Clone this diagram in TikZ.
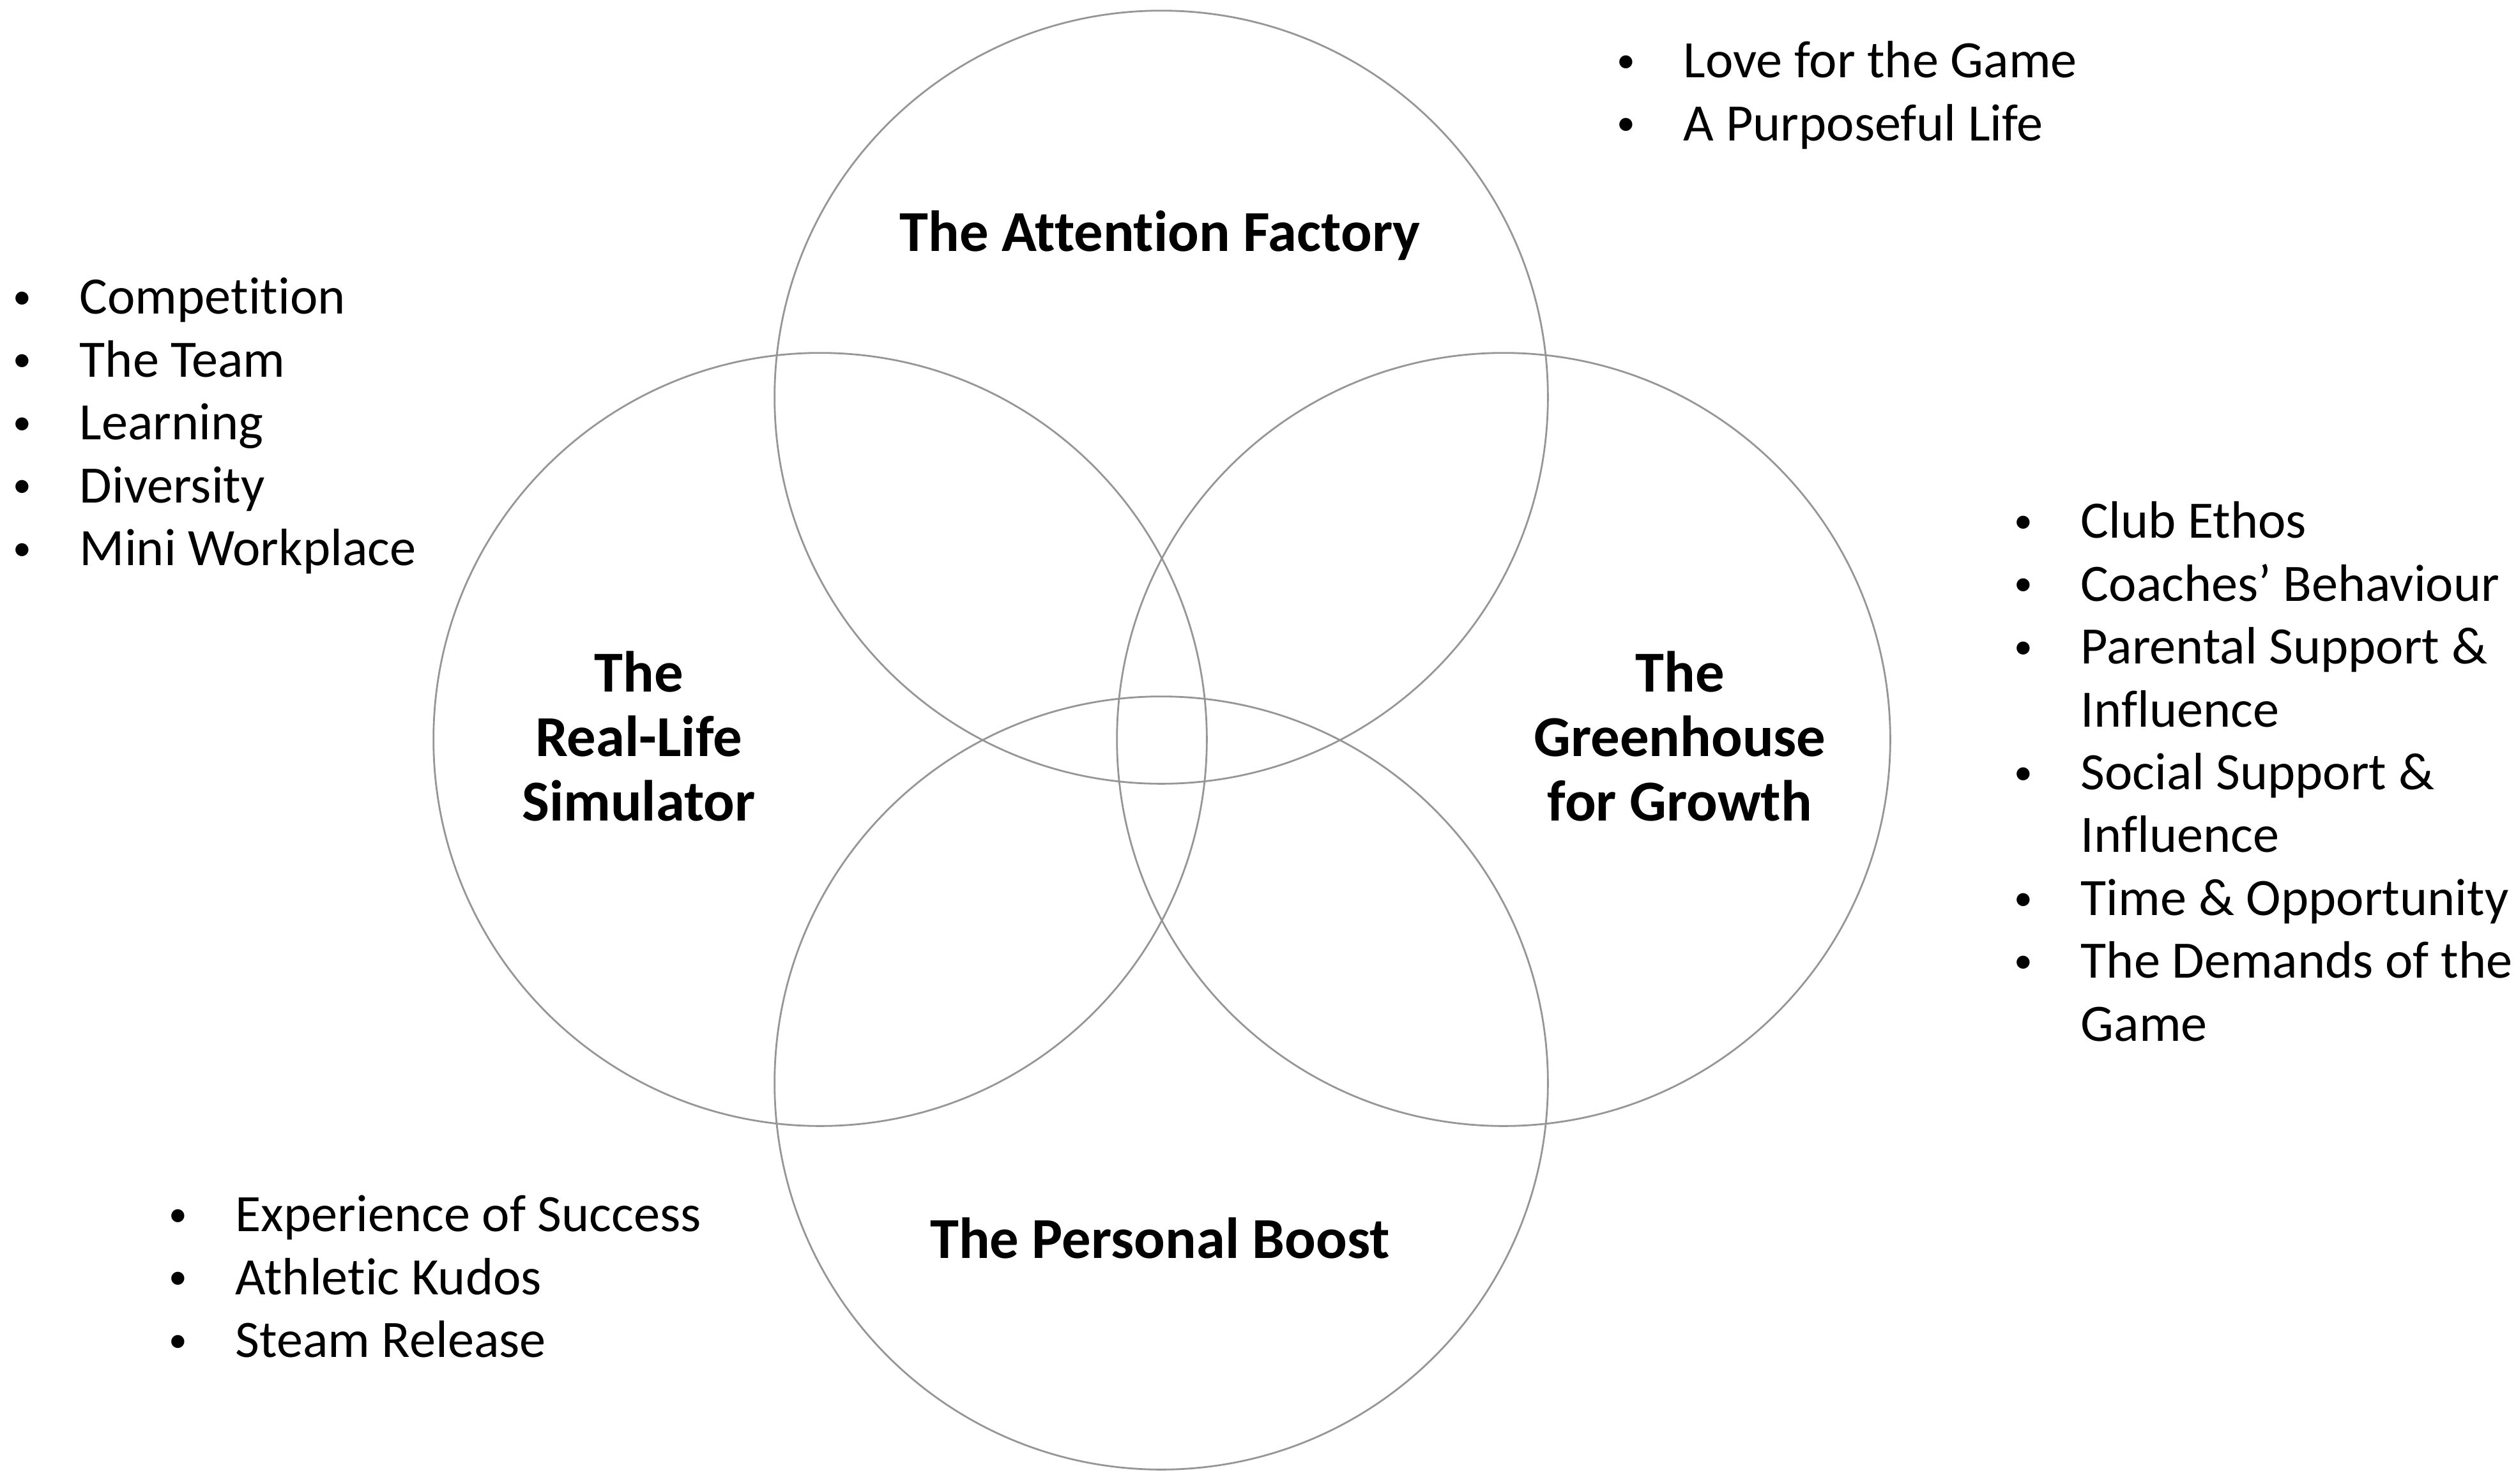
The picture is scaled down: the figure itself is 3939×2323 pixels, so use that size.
\documentclass[tikz,border=0pt]{standalone}
\usepackage{fontspec}
\setmainfont{Carlito}[Ligatures=NoCommon]
\usepackage{graphicx}
\usepackage{tikz}
\usetikzlibrary{positioning}
\definecolor{ringgray}{RGB}{150,150,150}
\newcommand{\bitem}[1]{\makebox[1.09cm][l]{\hspace{0.05cm}\raisebox{2.4pt}{\scalebox{0.7}{\textbullet}}}#1}
\newcommand{\bcont}[1]{\hspace*{1.09cm}#1}

\begin{document}
\begin{tikzpicture}[
					x=0.01cm, y=-0.01cm,
					ring/.style={
						circle, draw=ringgray, line width=0.8pt,
						inner sep=0pt, minimum size=12.1cm
					},
					% Bold titles inside the rings
					title_label/.style={
						font=\fontsize{25.8}{28.6}\selectfont\bfseries,
						align=center, inner sep=0pt
					},
					% Bullet lists around the rings
					bullet_list/.style={
						font=\fontsize{23.4}{28}\selectfont,
						align=left, anchor=north west, inner sep=0pt
					}
					]
					\useasboundingbox (0,0) rectangle (3939,2323);
					
					% The four rings
					\node[ring] (attn_ring) at (1818,622) {};
					\node[ring] (sim_ring) at (1284,1158) {};
					\node[ring] (green_ring) at (2354,1158) {};
					\node[ring] (boost_ring) at (1818,1696) {};
					
					% Titles
					\node[title_label] (attn) at (1816,369) {The Attention Factory};
					\node[title_label] (sim) at (1000,1153) {The\\Real-Life\\Simulator};
					\node[title_label] (green) at (2630,1153) {The\\Greenhouse\\for Growth};
					\node[title_label] (boost) at (1816,1939) {The Personal Boost};
					
					% Lists next to each ring
					\node[bullet_list] (attn_list) at (2526,52) {\strut\bitem{Love for the Game}\\
						\bitem{A Purposeful Life}};
					\node[bullet_list] (sim_list) at (15,422) {\strut\bitem{Competition}\\
						\bitem{The Team}\\
						\bitem{Learning}\\
						\bitem{Diversity}\\
						\bitem{Mini Workplace}};
					\node[bullet_list] (green_list) at (3148,773) {\strut\bitem{Club Ethos}\\
						\bitem{Coaches’ Behaviour}\\
						\bitem{Parental Support \&}\\
						\bcont{Influence}\\
						\bitem{Social Support \&}\\
						\bcont{Influence}\\
						\bitem{Time \& Opportunity}\\
						\bitem{The Demands of the}\\
						\bcont{Game}};
					\node[bullet_list] (boost_list) at (259,1859) {\strut\bitem{Experience of Success}\\
						\bitem{Athletic Kudos}\\
						\bitem{Steam Release}};
					
				\end{tikzpicture}
\end{document}
